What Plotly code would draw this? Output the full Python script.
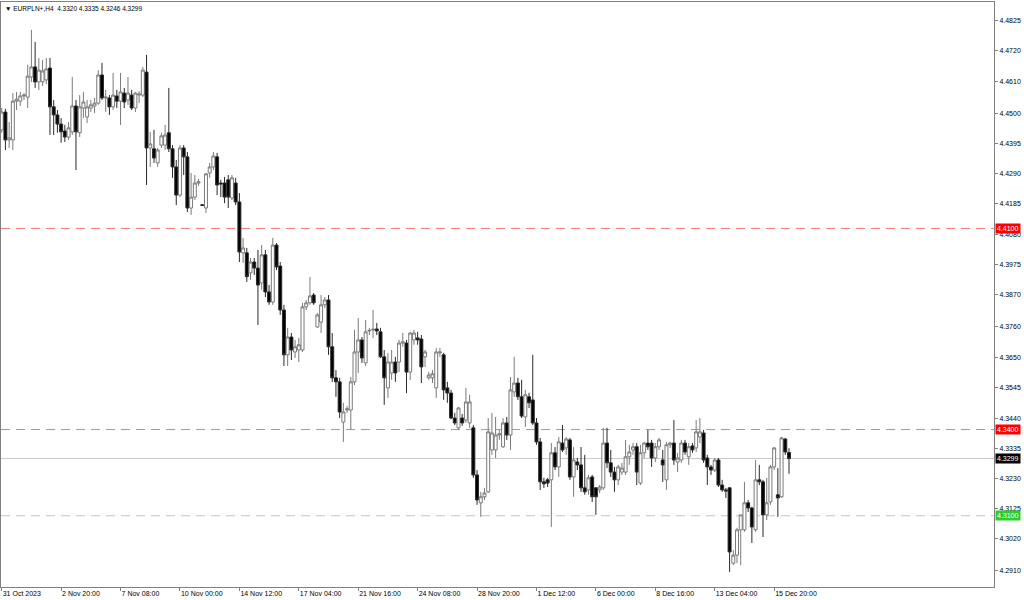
import plotly.graph_objects as go

opens = [4.4443,4.4505,4.4408,4.4408,4.4543,4.4543,4.4561,4.4557,4.4627,4.4662,
4.4610,4.4610,4.4617,4.4658,4.4523,4.4495,4.4463,4.4439,4.4418,4.4436,
4.4526,4.4433,4.4519,4.4488,4.4519,4.4526,4.4536,4.4634,4.4554,4.4554,
4.4523,4.4561,4.4543,4.4571,4.4547,4.4564,4.4519,4.4564,4.4564,4.4644,
4.4380,4.4377,4.4328,4.4390,4.4390,4.4433,4.4377,4.4314,4.4216,4.4380,
4.4349,4.4171,4.4209,4.4258,4.4182,4.4171,4.4293,4.4314,4.4349,4.4258,
4.4258,4.4269,4.4206,4.4258,4.4192,4.4015,4.4015,4.3945,4.3983,4.3962,
4.3910,4.4008,4.3879,4.3844,4.4042,4.3969,4.3816,4.3660,4.3722,4.3670,
4.3677,4.3677,4.3827,4.3841,4.3868,4.3757,4.3774,4.3834,4.3851,4.3688,
4.3580,4.3566,4.3426,4.3468,4.3468,4.3566,4.3670,4.3712,4.3632,4.3743,
4.3747,4.3750,4.3740,4.3653,4.3545,4.3597,4.3635,4.3635,4.3701,4.3701,
4.3600,4.3712,4.3719,4.3715,4.3653,4.3580,4.3580,4.3545,4.3667,4.3660,
4.3545,4.3527,4.3440,4.3406,4.3440,4.3433,4.3423,4.3406,4.3242,4.3145,
4.3166,4.3183,4.3329,4.3329,4.3381,4.3340,4.3423,4.3381,4.3531,4.3562,
4.3514,4.3444,4.3514,4.3503,4.3423,4.3357,4.3218,4.3225,4.3225,4.3319,
4.3270,4.3353,4.3336,4.3364,4.3235,4.3287,4.3277,4.3197,4.3190,4.3235,
4.3197,4.3190,4.3197,4.3353,4.3284,4.3252,4.3225,4.3252,4.3252,4.3305,
4.3329,4.3340,4.3214,4.3319,4.3353,4.3353,4.3301,4.3340,4.3294,4.3225,
4.3347,4.3353,4.3287,4.3294,4.3353,4.3305,4.3343,4.3336,4.3374,4.3388,
4.3301,4.3270,4.3259,4.3294,4.3207,4.3190,4.3197,4.2935,4.2963,4.3051,
4.3051,4.3145,4.3127,4.3051,4.3225,4.3218,4.3103,4.3148,4.3270,4.3173,
4.3166,4.3367,4.3320]

highs = [4.4519,4.4516,4.4470,4.4571,4.4575,4.4575,4.4571,4.4669,4.4791,4.4749,
4.4693,4.4686,4.4693,4.4693,4.4547,4.4512,4.4484,4.4460,4.4470,4.4627,
4.4547,4.4564,4.4575,4.4547,4.4547,4.4554,4.4651,4.4676,4.4582,4.4564,
4.4641,4.4582,4.4641,4.4589,4.4627,4.4582,4.4575,4.4578,4.4662,4.4704,
4.4436,4.4443,4.4380,4.4433,4.4460,4.4589,4.4390,4.4338,4.4390,4.4390,
4.4366,4.4293,4.4286,4.4272,4.4185,4.4293,4.4328,4.4366,4.4363,4.4269,
4.4279,4.4286,4.4286,4.4276,4.4223,4.4067,4.4032,4.3997,4.3997,4.4025,
4.4042,4.4025,4.3903,4.4067,4.4049,4.3983,4.3834,4.3754,4.3736,4.3712,
4.3719,4.3841,4.3851,4.3931,4.3875,4.3806,4.3868,4.3861,4.3868,4.3736,
4.3607,4.3580,4.3493,4.3482,4.3583,4.3747,4.3788,4.3722,4.3781,4.3754,
4.3816,4.3771,4.3754,4.3677,4.3666,4.3677,4.3653,4.3712,4.3736,4.3712,
4.3740,4.3747,4.3740,4.3729,4.3677,4.3601,4.3607,4.3684,4.3684,4.3667,
4.3566,4.3538,4.3458,4.3479,4.3454,4.3545,4.3521,4.3416,4.3259,4.3183,
4.3197,4.3440,4.3458,4.3444,4.3399,4.3440,4.3444,4.3583,4.3653,4.3580,
4.3573,4.3538,4.3528,4.3660,4.3440,4.3371,4.3232,4.3232,4.3353,4.3339,
4.3374,4.3416,4.3374,4.3371,4.3339,4.3301,4.3339,4.3312,4.3242,4.3242,
4.3200,4.3207,4.3406,4.3406,4.3329,4.3270,4.3277,4.3284,4.3364,4.3347,
4.3353,4.3353,4.3347,4.3357,4.3399,4.3364,4.3353,4.3371,4.3329,4.3357,
4.3357,4.3433,4.3319,4.3364,4.3364,4.3353,4.3353,4.3433,4.3440,4.3399,
4.3312,4.3277,4.3301,4.3301,4.3225,4.3197,4.3200,4.2981,4.3058,4.3103,
4.3218,4.3155,4.3131,4.3294,4.3277,4.3225,4.3232,4.3277,4.3339,4.3266,
4.3374,4.3371,4.3335]

lows = [4.4433,4.4373,4.4380,4.4373,4.4512,4.4526,4.4547,4.4519,4.4610,4.4589,
4.4582,4.4596,4.4603,4.4425,4.4425,4.4433,4.4398,4.4401,4.4408,4.4425,
4.4303,4.4418,4.4484,4.4467,4.4505,4.4502,4.4530,4.4547,4.4505,4.4495,
4.4512,4.4519,4.4460,4.4519,4.4530,4.4512,4.4505,4.4536,4.4557,4.4251,
4.4314,4.4328,4.4314,4.4380,4.4373,4.4366,4.4276,4.4181,4.4209,4.4286,
4.4157,4.4147,4.4199,4.4248,4.4178,4.4154,4.4276,4.4303,4.4216,4.4209,
4.4188,4.4171,4.4199,4.4181,4.3983,4.3980,4.3914,4.3921,4.3938,4.3764,
4.3886,4.3861,4.3834,4.3834,4.3955,4.3799,4.3621,4.3621,4.3642,4.3649,
4.3635,4.3670,4.3816,4.3834,4.3834,4.3754,4.3736,4.3823,4.3660,4.3566,
4.3514,4.3440,4.3357,4.3458,4.3399,4.3555,4.3597,4.3632,4.3621,4.3729,
4.3719,4.3729,4.3649,4.3486,4.3510,4.3573,4.3566,4.3600,4.3688,4.3527,
4.3573,4.3695,4.3695,4.3562,4.3618,4.3573,4.3562,4.3510,4.3653,4.3503,
4.3493,4.3436,4.3416,4.3399,4.3413,4.3423,4.3406,4.3232,4.3138,4.3096,
4.3155,4.3179,4.3312,4.3301,4.3364,4.3336,4.3364,4.3329,4.3514,4.3503,
4.3440,4.3409,4.3475,4.3416,4.3347,4.3190,4.3197,4.3200,4.3061,4.3259,
4.3235,4.3322,4.3312,4.3225,4.3166,4.3259,4.3183,4.3173,4.3173,4.3148,
4.3103,4.3179,4.3190,4.3266,4.3235,4.3183,4.3207,4.3242,4.3242,4.3277,
4.3312,4.3207,4.3207,4.3301,4.3329,4.3270,4.3287,4.3329,4.3218,4.3190,
4.3336,4.3277,4.3252,4.3284,4.3312,4.3277,4.3319,4.3322,4.3353,4.3284,
4.3207,4.3242,4.3252,4.3200,4.3183,4.3162,4.2904,4.2928,4.2935,4.2928,
4.3044,4.3113,4.3005,4.3044,4.3207,4.3026,4.3085,4.3138,4.3259,4.3096,
4.3162,4.3312,4.3246]

closes = [4.4505,4.4408,4.4415,4.4543,4.4550,4.4561,4.4564,4.4630,4.4662,4.4610,
4.4651,4.4648,4.4655,4.4523,4.4495,4.4463,4.4436,4.4418,4.4450,4.4526,
4.4436,4.4523,4.4540,4.4523,4.4530,4.4536,4.4634,4.4554,4.4557,4.4523,
4.4564,4.4543,4.4575,4.4540,4.4571,4.4519,4.4571,4.4568,4.4651,4.4380,
4.4394,4.4345,4.4373,4.4422,4.4425,4.4377,4.4314,4.4216,4.4380,4.4349,
4.4171,4.4209,4.4258,4.4262,4.4180,4.4290,4.4314,4.4352,4.4251,4.4255,
4.4209,4.4209,4.4276,4.4192,4.4018,4.4032,4.3932,4.3983,4.3962,4.3903,
4.4008,4.3879,4.3844,4.4042,4.3966,4.3816,4.3660,4.3722,4.3677,4.3688,
4.3695,4.3827,4.3841,4.3865,4.3841,4.3799,4.3834,4.3851,4.3688,4.3580,
4.3566,4.3461,4.3461,4.3472,4.3566,4.3670,4.3712,4.3649,4.3740,4.3745,
4.3749,4.3743,4.3653,4.3580,4.3635,4.3635,4.3597,4.3701,4.3705,4.3600,
4.3736,4.3736,4.3712,4.3618,4.3670,4.3590,4.3594,4.3670,4.3670,4.3538,
4.3527,4.3440,4.3423,4.3475,4.3423,4.3496,4.3496,4.3242,4.3155,4.3166,
4.3179,4.3392,4.3388,4.3381,4.3385,4.3423,4.3381,4.3538,4.3562,4.3514,
4.3447,4.3521,4.3493,4.3423,4.3357,4.3218,4.3211,4.3214,4.3319,4.3270,
4.3357,4.3329,4.3367,4.3235,4.3294,4.3277,4.3197,4.3183,4.3232,4.3166,
4.3166,4.3200,4.3353,4.3284,4.3252,4.3225,4.3270,4.3266,4.3305,4.3322,
4.3340,4.3252,4.3319,4.3353,4.3340,4.3301,4.3340,4.3364,4.3277,4.3347,
4.3353,4.3294,4.3301,4.3353,4.3322,4.3340,4.3329,4.3392,4.3392,4.3294,
4.3270,4.3259,4.3294,4.3207,4.3190,4.3186,4.2974,4.2963,4.3051,4.3103,
4.3145,4.3127,4.3061,4.3225,4.3218,4.3103,4.3145,4.3270,4.3336,4.3162,
4.3371,4.3322,4.3299]

time_tick_bars = [0, 16, 32, 48, 64, 80, 96, 112, 128, 144, 160, 176, 192, 208]
time_tick_labels = ["31 Oct 2023", "2 Nov 20:00", "7 Nov 08:00", "10 Nov 00:00",
                    "14 Nov 12:00", "17 Nov 04:00", "21 Nov 16:00", "24 Nov 08:00",
                    "28 Nov 20:00", "1 Dec 12:00", "6 Dec 00:00", "8 Dec 16:00",
                    "13 Dec 04:00", "15 Dec 20:00"]

price_ticks = [4.4825, 4.4720, 4.4610, 4.4500, 4.4395, 4.4290, 4.4185, 4.4080,
               4.3975, 4.3870, 4.3760, 4.3650, 4.3545, 4.3440, 4.3335, 4.3230,
               4.3125, 4.3020, 4.2910]

level_prices = [4.4100, 4.3400, 4.3100]
level_colors = ["#f07878", "#f07878", "#a6d8a6"]
level_label_colors = ["#ff0000", "#ff0000", "#2ecc2e"]
current_price = 4.3299

title_text = "EURPLN+,H4  4.3320 4.3335 4.3246 4.3299"

FONT = "Liberation Sans"

x = list(range(len(opens)))

fig = go.Figure()
fig.add_trace(go.Candlestick(
    x=x, open=opens, high=highs, low=lows, close=closes,
    increasing=dict(line=dict(color="#7a7a7a", width=1), fillcolor="#ffffff"),
    decreasing=dict(line=dict(color="#2a2a2a", width=1), fillcolor="#000000"),
    whiskerwidth=0, showlegend=False, hoverinfo="skip",
))

shapes = []
for p, c in zip(level_prices, level_colors):
    shapes.append(dict(type="line", xref="paper", x0=0, x1=1, yref="y", y0=p, y1=p,
                       line=dict(color=c, width=1, dash="9px,6px"), layer="below"))
shapes.append(dict(type="line", xref="paper", x0=0, x1=1, yref="y", y0=current_price,
                   y1=current_price, line=dict(color="#c8c8c8", width=1), layer="below"))

annotations = []
for p, c in zip(level_prices, level_label_colors):
    annotations.append(dict(xref="paper", x=1, xanchor="left", xshift=1, yref="y", y=p,
                            yanchor="middle", text=f"{p:.4f}", showarrow=False,
                            bgcolor=c, borderpad=1,
                            font=dict(family=FONT, size=7, color="#ffffff")))
annotations.append(dict(xref="paper", x=1, xanchor="left", xshift=1, yref="y",
                        y=current_price, yanchor="middle", text=f"{current_price:.4f}",
                        showarrow=False, bgcolor="#000000", borderpad=1,
                        font=dict(family=FONT, size=7, color="#ffffff")))
annotations.append(dict(xref="paper", x=0, xanchor="left", xshift=2, yref="paper", y=1,
                        yanchor="top", yshift=-1, text="\u25BC " + title_text,
                        showarrow=False, font=dict(family=FONT, size=6.5, color="#000000")))

fig.update_layout(
    width=1024, height=600,
    margin=dict(l=1, r=30, t=2, b=13, autoexpand=False),
    paper_bgcolor="#ffffff", plot_bgcolor="#ffffff",
    shapes=shapes, annotations=annotations,
    font=dict(family=FONT, size=7, color="#000000"),
    showlegend=False,
    boxgap=0.2, boxgroupgap=0,
    xaxis=dict(
        range=[-0.19, 267.2], rangeslider=dict(visible=False),
        tickmode="array", tickvals=time_tick_bars, ticktext=time_tick_labels,
        ticks="outside", ticklen=3, tickcolor="#808080",
        ticklabelposition="outside right",
        showgrid=False, zeroline=False,
        showline=True, linecolor="#808080", linewidth=1, mirror=True,
        tickfont=dict(family=FONT, size=7, color="#000000"), automargin=False,
    ),
    yaxis=dict(
        range=[4.2852, 4.4888], side="right",
        tickmode="array", tickvals=price_ticks,
        ticktext=[f"{v:.4f}" for v in price_ticks],
        ticks="outside", ticklen=3, tickcolor="#808080",
        showgrid=False, zeroline=False,
        showline=True, linecolor="#808080", linewidth=1, mirror=True,
        tickfont=dict(family=FONT, size=7, color="#000000"), automargin=False,
    ),
)

fig.write_html("out.html", config={"displayModeBar": False},
               post_script="document.body.style.margin='0';document.body.style.padding='0';")
